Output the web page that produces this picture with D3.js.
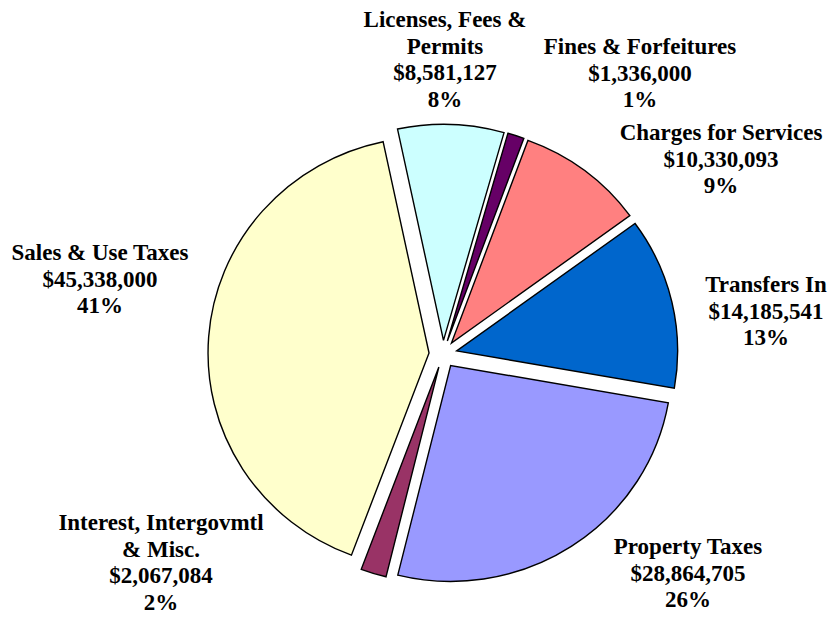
<!DOCTYPE html>
<html>
<head>
<meta charset="utf-8">
<script src="https://cdn.jsdelivr.net/npm/d3@7.9.0/dist/d3.min.js"></script>
<style>
  html, body { margin: 0; padding: 0; background: #fff; }
  svg { display: block; }
  .lbl { font-family: "Liberation Serif", "Times New Roman", serif; font-weight: bold; font-size: 23px; fill: #000; }
</style>
</head>
<body>
<svg id="chart" width="828" height="618"></svg>
<script>
// revenue sources, clockwise from the top
const categories = [
  'Licenses, Fees &\nPermits',
  'Fines & Forfeitures',
  'Charges for Services',
  'Transfers In',
  'Property Taxes',
  'Interest, Intergovmtl\n& Misc.',
  'Sales & Use Taxes'
];
const values = [8581127, 1336000, 10330093, 14185541, 28864705, 2067084, 45338000];
const colors = ['#CCFFFF', '#660066', '#FF8080', '#0066CC', '#9999FF', '#993366', '#FFFFCC'];

// label anchors: centre x, first baseline
const labelAt = [[445, 27], [640, 54], [721, 140], [766, 292], [688, 554], [161, 530], [100, 260]];

const W = 828, H = 618;
const cx = 443, cy = 354;
const rx = 221, ry = 216;
const explode = 14;
const lineH = 26.7;

const svg = d3.select('#chart');
const total = d3.sum(values);
const pct = d3.format('.0%');
const money = v => '$' + d3.format(',')(v);

const pie = d3.pie()
  .sort(null)
  .value(d => d)
  .startAngle(-12 * Math.PI / 180)
  .endAngle(-12 * Math.PI / 180 + 2 * Math.PI);

const arc = d3.arc().innerRadius(0).outerRadius(rx);

const g = svg.append('g')
  .attr('transform', `translate(${cx},${cy}) scale(1,${ry / rx})`);

g.selectAll('path')
  .data(pie(values))
  .enter()
  .append('path')
  .attr('d', arc)
  .attr('transform', d => {
    const m = (d.startAngle + d.endAngle) / 2;
    return `translate(${explode * Math.sin(m)},${-explode * Math.cos(m)})`;
  })
  .attr('fill', (d, i) => colors[i])
  .attr('stroke', '#000')
  .attr('stroke-width', 1.4)
  .attr('stroke-linejoin', 'miter')
  .attr('vector-effect', 'non-scaling-stroke');

// labels
categories.forEach((c, i) => {
  const lines = c.split('\n').concat([money(values[i]), pct(values[i] / total)]);
  const t = svg.append('text')
    .attr('class', 'lbl')
    .attr('text-anchor', 'middle')
    .attr('x', labelAt[i][0])
    .attr('y', labelAt[i][1]);
  lines.forEach((s, j) => {
    t.append('tspan')
      .attr('x', labelAt[i][0])
      .attr('y', labelAt[i][1] + j * lineH)
      .text(s);
  });
});
</script>
</body>
</html>
